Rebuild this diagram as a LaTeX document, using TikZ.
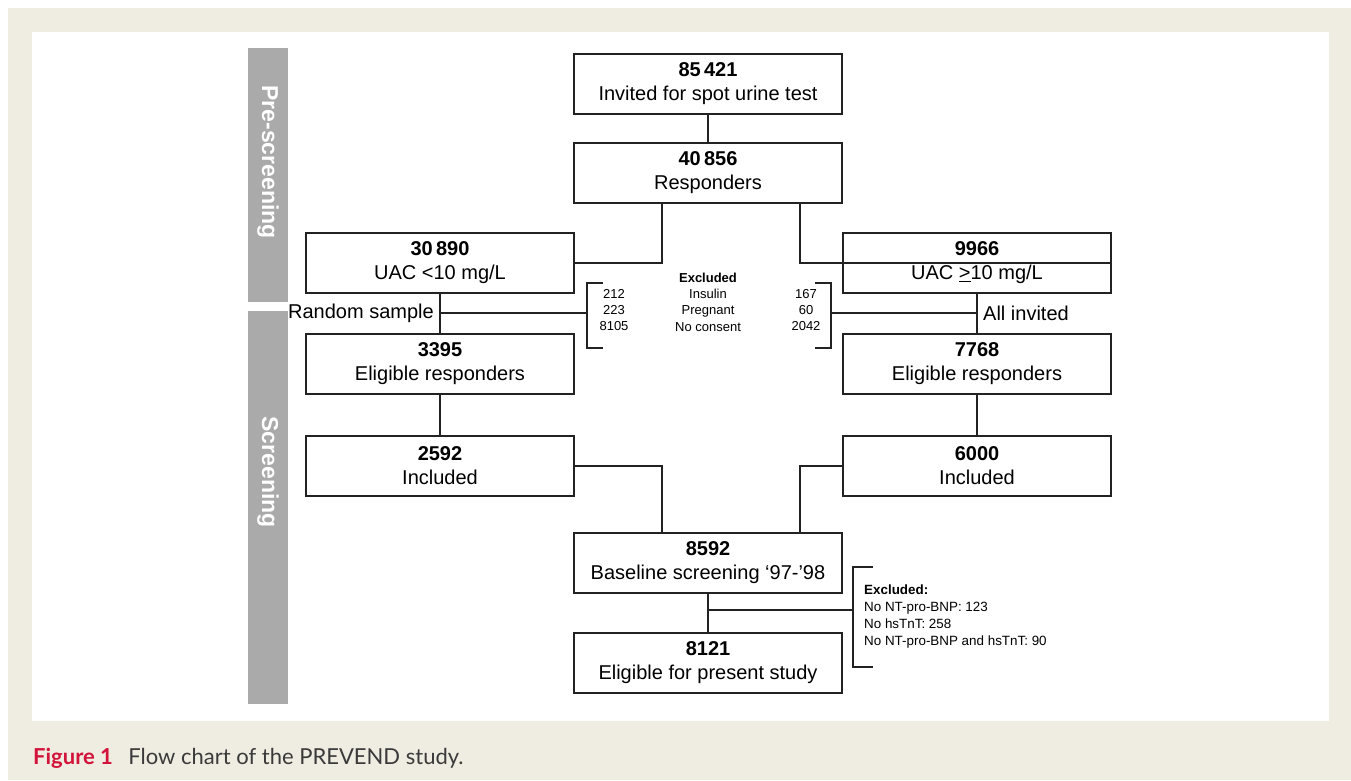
\documentclass[tikz,border=0pt]{standalone}
\usepackage{fontspec}
\setmainfont{Liberation Sans}
\newfontfamily\capfont{Lato}
\usetikzlibrary{positioning}
\definecolor{frame}{HTML}{EFECE1}
\definecolor{band}{HTML}{AAAAAA}
\definecolor{ink}{HTML}{222222}
\definecolor{capred}{HTML}{D2143A}
\definecolor{captext}{HTML}{3A3A3A}
\tikzset{
  box/.style     ={draw=ink, line width=1.6pt, minimum width=268pt, minimum height=60pt,
                   align=center, inner sep=2pt, font=\fontsize{20}{24}\selectfont},
  link/.style    ={draw=ink, line width=1.6pt},
  bandtxt/.style ={rotate=-90, text=white, font=\fontsize{23}{25}\selectfont\bfseries},
  note/.style    ={align=center, inner sep=0pt, font=\fontsize{13}{16.3}\selectfont},
  side/.style    ={inner sep=0pt, font=\fontsize{20}{24}\selectfont}
}
\begin{document}
\begin{tikzpicture}[x=1pt, y=-1pt]
  \useasboundingbox (0,0) rectangle (1351,780);
  \fill[frame] (8,8) rectangle (1351,780);
  \fill[white] (32,32) rectangle (1329,721);

  % phase bands
  \fill[band] (248,48)  rectangle (288,302);
  \fill[band] (248,311) rectangle (288,704);
  \node[bandtxt] (pre) at (268,162) {Pre-screening};
  \node[bandtxt] (scr) at (268,472) {Screening};

  % boxes
  \node[box] (inv)  at (708,84)  {\textbf{85\,421}\\Invited for spot urine test};
  \node[box] (resp) at (708,173) {\textbf{40\,856}\\Responders};
  \node[box] (uacl) at (440,263) {\textbf{30\,890}\\UAC <10 mg/L};
  \node[box] (uach) at (977,263) {\textbf{9966}\\UAC \underline{>}10 mg/L};
  \node[box] (elil) at (440,364) {\textbf{3395}\\Eligible responders};
  \node[box] (elih) at (977,364) {\textbf{7768}\\Eligible responders};
  \node[box] (incl) at (440,466) {\textbf{2592}\\Included};
  \node[box] (inch) at (977,466) {\textbf{6000}\\Included};
  \node[box] (base) at (708,563) {\textbf{8592}\\Baseline screening `97-'98};
  \node[box] (pres) at (708,663) {\textbf{8121}\\Eligible for present study};

  % exclusions at the sampling step
  \node[note] (exc) at (708,302) {\textbf{Excluded}\\Insulin\\Pregnant\\No consent};
  \node[note] (exl) at (614,310) {212\\223\\8105};
  \node[note] (exr) at (806,310) {167\\60\\2042};
  \coordinate (bl) at (587,313);
  \coordinate (br) at (831,313);
  \draw[link] (603,283) -- (587,283) -- (587,348) -- (603,348);
  \draw[link] (815,283) -- (831,283) -- (831,348) -- (815,348);

  % exclusions for the present study
  \coordinate (bb) at (853,610);
  \draw[link] (873,567) -- (853,567) -- (853,667) -- (873,667);
  \node[anchor=west, align=left, inner sep=0pt, font=\fontsize{13.4}{17}\selectfont]
    (exb) at (864,617) {\textbf{Excluded:}\\No NT-pro-BNP: 123\\No hsTnT: 258\\No NT-pro-BNP and hsTnT: 90};

  % joints
  \coordinate (jl) at (662,0);
  \coordinate (jr) at (800,0);

  \draw[link] (inv) -- (resp);
  \draw[link] (resp.south -| jl) |- (uacl.east);
  \draw[link] (resp.south -| jr) |- (uach.east);
  \draw[link] (uacl) -- (elil);
  \draw[link] (uach) -- (elih);
  \draw[link] (uacl.south |- bl) -- (bl);
  \draw[link] (br) -- (uach.south |- br);
  \node[side, anchor=east] (rs) at ([xshift=-6pt]uacl.south |- bl) {Random sample};
  \node[side, anchor=west] (ai) at ([xshift=6pt]uach.south |- br) {All invited};
  \draw[link] (elil) -- (incl);
  \draw[link] (elih) -- (inch);
  \draw[link] (incl.east) -| (base.north -| jl);
  \draw[link] (inch.west) -| (base.north -| jr);
  \draw[link] (base) -- (pres);
  \draw[link] (base.south |- bb) -- (bb);

  % caption
  \node[anchor=west, inner sep=0pt, font=\capfont\fontsize{22}{26}\selectfont] (cap) at (33,758)
    {\textcolor{capred}{\bfseries Figure 1}\hspace{0.7em}\textcolor{captext}{Flow chart of the PREVEND study.}};
\end{tikzpicture}
\end{document}
